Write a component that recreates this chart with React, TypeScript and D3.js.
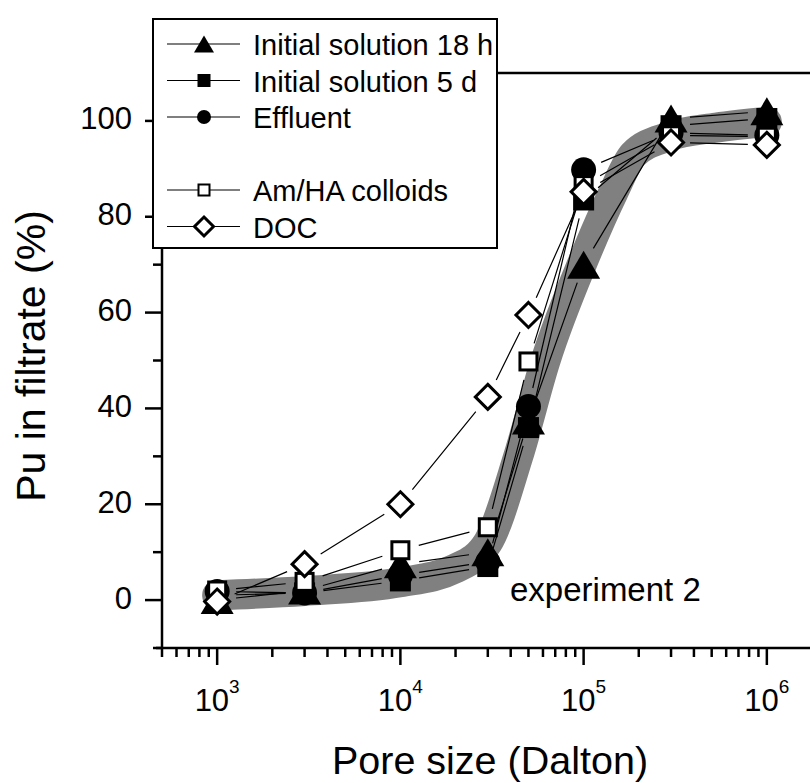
import React from 'react';
import * as d3 from 'd3';

// ---- data ----
const poreSizes = [1e3, 3e3, 1e4, 3e4, 5e4, 1e5, 3e5, 1e6];
const initial18h = [0, 2, 7.5, 10, 37.5, 70, 100.5, 102];
const initial5d = [1, 1.5, 4, 7, 36, 83.5, 99, 100.5];
const effluent = [1.8, 1.5, 5.2, 8, 40.4, 89.8, 97.5, 97];
const amHA = [2, 3.8, 10.4, 15.2, 49.8, 86.6, 97, 96.7];
const doc = [-0.3, 7.5, 20, 42.4, 59.5, 85.2, 95.5, 95];

const bandSizes = [1e3, 3e3, 1e4, 2e4, 3e4, 4.4e4, 6.2e4, 1e5, 1.45e5, 1.87e5, 2.9e5, 5.3e5, 1e6];
const bandValues = [1, 1.9, 3.7, 6.6, 12, 30, 50, 71, 85, 93, 96.7, 98.6, 99.8];

const seriesNames = ['Initial solution 18 h', 'Initial solution 5 d', 'Effluent', 'Am/HA colloids', 'DOC'];
const seriesShapes = ['tri', 'sq', 'circ', 'osq', 'dia'];
const seriesValues = [initial18h, initial5d, effluent, amHA, doc];

const xMajorTicks = [1e3, 1e4, 1e5, 1e6];
const xTickExponents = ['3', '4', '5', '6'];
const yMajorTicks = [0, 20, 40, 60, 80, 100];
const yMinorTicks = [-10, 10, 30, 50, 70, 90, 110];

const xTitle = 'Pore size (Dalton)';
const yTitle = 'Pu in filtrate (%)';
const annotation = 'experiment 2';

const FONT = "'Liberation Sans', Arial, sans-serif";

function Marker({ kind, x, y, big }: { kind: string; x: number; y: number; big: boolean }) {
  if (kind === 'tri') {
    const s = big ? 33 : 20;
    const h = big ? 28 : 17;
    return <path d={`M${x},${y - h / 2}L${x + s / 2},${y + h / 2}L${x - s / 2},${y + h / 2}Z`} fill="#000" />;
  }
  if (kind === 'sq') {
    const s = big ? 21 : 13;
    return <rect x={x - s / 2} y={y - s / 2} width={s} height={s} fill="#000" />;
  }
  if (kind === 'circ') {
    const r = big ? 12.5 : 7;
    return <circle cx={x} cy={y} r={r} fill="#000" />;
  }
  if (kind === 'osq') {
    const s = big ? 17 : 11;
    return <rect x={x - s / 2} y={y - s / 2} width={s} height={s} fill="#fff" stroke="#000" strokeWidth={big ? 3 : 2} />;
  }
  const r = big ? 12.5 : 9.5;
  return <path d={`M${x},${y - r}L${x + r},${y}L${x},${y + r}L${x - r},${y}Z`} fill="#fff" stroke="#000" strokeWidth={3} strokeLinejoin="miter" />;
}

export default function App() {
  const W = 810, H = 783;
  const x = d3.scaleLog().domain([500, 2e6]).range([162, 822]);
  const y = d3.scaleLinear().domain([-10, 110]).range([648, 73]);

  const bandLine = d3.line<number>()
    .x((_, i) => x(bandSizes[i]))
    .y((d) => y(d))
    .curve(d3.curveMonotoneX);

  const xMinor = x.ticks().filter((v) => !xMajorTicks.some((m) => Math.abs(m - v) < 1e-6 * m));

  const gap = 19;
  const segments = (vals: number[]) => {
    const pts = vals.map((v, i) => [x(poreSizes[i]), y(v)]);
    const out: string[] = [];
    for (let i = 0; i < pts.length - 1; i++) {
      const [x1, y1] = pts[i];
      const [x2, y2] = pts[i + 1];
      const dx = x2 - x1, dy = y2 - y1;
      const len = Math.hypot(dx, dy);
      if (len <= 2 * gap) continue;
      const ux = dx / len, uy = dy / len;
      out.push(`M${x1 + ux * gap},${y1 + uy * gap}L${x2 - ux * gap},${y2 - uy * gap}`);
    }
    return out.join('');
  };

  const legendX = 153, legendY = 19, legendW = 344, legendH = 229;
  const legendRows = [44, 80.5, 117, 190, 226.5];

  return (
    <svg width={W} height={H} style={{ position: 'absolute', left: 0, top: 0, background: '#fff' }} fontFamily={FONT}>
      <rect x={0} y={0} width={W} height={H} fill="#fff" />
      {/* gray band */}
      <path d={bandLine(bandValues) || ''} fill="none" stroke="#808080" strokeWidth={30} strokeLinecap="round" strokeLinejoin="round" />
      {/* connecting lines */}
      {seriesValues.map((vals, i) => (
        <path key={'l' + i} d={segments(vals)} fill="none" stroke="#000" strokeWidth={1.2} />
      ))}
      {/* markers */}
      {seriesValues.map((vals, i) => (
        <g key={'m' + i}>
          {vals.map((v, j) => (
            <Marker key={j} kind={seriesShapes[i]} x={x(poreSizes[j])} y={y(v)} big={true} />
          ))}
        </g>
      ))}
      {/* axes */}
      <line x1={162} x2={822} y1={y(110)} y2={y(110)} stroke="#000" strokeWidth={2.5} />
      <line x1={162} x2={162} y1={y(110)} y2={y(-10) + 1} stroke="#000" strokeWidth={2.5} />
      <line x1={156} x2={822} y1={y(-10)} y2={y(-10)} stroke="#000" strokeWidth={2.5} />
      {yMajorTicks.map((t) => (
        <g key={'ym' + t}>
          <line x1={145} x2={162} y1={y(t)} y2={y(t)} stroke="#000" strokeWidth={2.5} />
          <text x={132} y={y(t) + 8.5} textAnchor="end" fontSize={31}>{t}</text>
        </g>
      ))}
      {yMinorTicks.map((t) => (
        <line key={'yn' + t} x1={153} x2={162} y1={y(t)} y2={y(t)} stroke="#000" strokeWidth={2.5} />
      ))}
      {xMajorTicks.map((t, i) => (
        <g key={'xm' + t}>
          <line x1={x(t)} x2={x(t)} y1={y(-10)} y2={y(-10) + 17} stroke="#000" strokeWidth={2.5} />
          <text x={x(t)} y={711} textAnchor="middle" fontSize={31}>
            10<tspan dy={-18} fontSize={19}>{xTickExponents[i]}</tspan>
          </text>
        </g>
      ))}
      {xMinor.map((t) => (
        <line key={'xn' + t} x1={x(t)} x2={x(t)} y1={y(-10)} y2={y(-10) + 9} stroke="#000" strokeWidth={2.5} />
      ))}
      {/* titles */}
      <text x={490} y={774} textAnchor="middle" fontSize={39.5}>{xTitle}</text>
      <text transform="translate(45,356) rotate(-90)" textAnchor="middle" fontSize={41}>{yTitle}</text>
      <text x={510} y={601} fontSize={33}>{annotation}</text>
      {/* legend */}
      <rect x={legendX} y={legendY} width={legendW} height={legendH} fill="#fff" stroke="#000" strokeWidth={2} />
      {seriesNames.map((name, i) => (
        <g key={'lg' + i}>
          <line x1={167} x2={240} y1={legendRows[i]} y2={legendRows[i]} stroke="#000" strokeWidth={1.2} />
          <Marker kind={seriesShapes[i]} x={204} y={legendRows[i]} big={false} />
          <text x={253} y={legendRows[i] + 11} fontSize={29}>{name}</text>
        </g>
      ))}
    </svg>
  );
}
